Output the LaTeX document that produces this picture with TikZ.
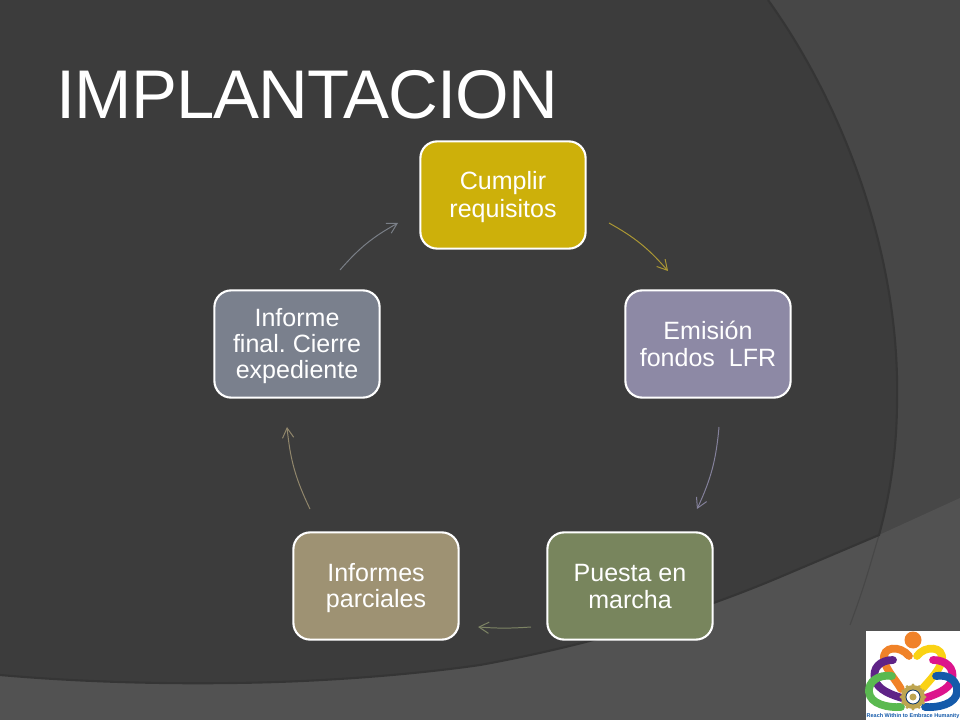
\documentclass[tikz,border=0pt]{standalone}
\usepackage{fontspec}
\setmainfont{Liberation Sans}
\newfontfamily\titlefont[LetterSpace=-1.3]{Liberation Sans}
\usetikzlibrary{arrows.meta}
\frenchspacing
\newcommand{\linestrut}{\rule[-2.9pt]{0pt}{18.6pt}}
\definecolor{slatebase}{RGB}{71,71,71}
\definecolor{slatedark}{RGB}{60,60,60}
\definecolor{slateedge}{RGB}{53,53,53}
\definecolor{slatefloor}{RGB}{82,82,82}
\definecolor{cumplirgold}{RGB}{205,176,10}
\definecolor{emisionlilac}{RGB}{141,137,165}
\definecolor{puestagreen}{RGB}{120,133,93}
\definecolor{parcialtan}{RGB}{158,146,115}
\definecolor{finalgrey}{RGB}{122,128,141}
\definecolor{logoblue}{RGB}{20,90,170}
\definecolor{logoorange}{RGB}{240,130,40}
\definecolor{logoyellow}{RGB}{250,210,20}
\definecolor{logopurple}{RGB}{95,35,135}
\definecolor{logomagenta}{RGB}{220,20,140}
\definecolor{logogreen}{RGB}{90,185,80}
\definecolor{logogold}{RGB}{190,165,80}
\tikzset{
    >={Straight Barb[length=7pt,width=8pt]},
    stepbox/.style={draw=white, line width=1.5pt, rounded corners=0.42cm, minimum width=4.13cm, minimum height=2.68cm, text=white, align=center, inner sep=0pt, font=\fontsize{17.8}{18.8}\selectfont},
    cycle arrow/.style={->, line width=0.7pt, bend left=#1},
    logo band/.style={line width=5.5pt, line cap=round}
}

\begin{document}
\begin{tikzpicture}[x=0.025cm, y=-0.025cm]
    \useasboundingbox (0,0) rectangle (960,720);
    % background
    \fill[slatebase] (0,0) rectangle (960,720);
    \fill[slatefloor] (0,675) .. controls (80,682) and (160,684) .. (233,683) .. controls (320,682) and (410,675) .. (480,665) .. controls (590,645) and (690,615) .. (780,577) -- (879,535) -- (960,498) -- (960,720) -- (0,720) -- cycle;
    \draw[slatebase, line width=0.8pt] (879,535) .. controls (870,565) and (865,585) .. (850,625);
    \fill[slatedark] (0,0) -- (768,0) .. controls (840,100) and (900,250) .. (897,400) .. controls (897,450) and (890,495) .. (879,535) -- (780,577) .. controls (690,615) and (590,645) .. (480,665) .. controls (410,675) and (320,682) .. (233,683) .. controls (160,684) and (80,682) .. (0,675) -- cycle;
    \draw[slateedge, line width=1.5pt] (768,0) .. controls (840,100) and (900,250) .. (897,400) .. controls (897,450) and (890,495) .. (879,535) -- (780,577) .. controls (690,615) and (590,645) .. (480,665) .. controls (410,675) and (320,682) .. (233,683) .. controls (160,684) and (80,682) .. (0,675);

    % title
    \node[anchor=base west, inner sep=0pt, text=white, font=\titlefont\fontsize{49}{51}\selectfont] (title) at (56,119) {IMPLANTACION};

    % the five steps
    \node[stepbox, fill=cumplirgold] (cumplir) at (503,195) {\linestrut Cumplir\\\linestrut requisitos};
    \node[stepbox, fill=emisionlilac] (emision) at (708,344) {\linestrut Emisi\'on\\\linestrut fondos\ \ LFR};
    \node[stepbox, fill=puestagreen] (puesta) at (630,586) {\linestrut Puesta en\\\linestrut marcha};
    \node[stepbox, fill=parcialtan] (parciales) at (376,586) {\linestrut Informes\\\linestrut parciales};
    \node[stepbox, fill=finalgrey] (final) at (297,344) {\linestrut Informe\\\linestrut final. Cierre\\\linestrut expediente};

    % free ends of the arrows
    \coordinate (cumplirout) at (609,223);
    \coordinate (emisionin) at (668,271);
    \coordinate (emisionout) at (719,427);
    \coordinate (puestain) at (697,509);
    \coordinate (puestaout) at (531,627);
    \coordinate (parcialesin) at (478,627);
    \coordinate (parcialesout) at (310,509);
    \coordinate (finalin) at (287,427);
    \coordinate (finalout) at (340,270);
    \coordinate (cumplirin) at (398,223);

    \draw[cycle arrow=10, color={rgb,255:red,172;green,152;blue,52}] (cumplirout) to (emisionin);
    \draw[cycle arrow=10, color={rgb,255:red,132;green,129;blue,155}] (emisionout) to (puestain);
    \draw[cycle arrow=4, color={rgb,255:red,125;green,132;blue,100}] (puestaout) to (parcialesin);
    \draw[cycle arrow=10, color={rgb,255:red,145;green,135;blue,108}] (parcialesout) to (finalin);
    \draw[cycle arrow=10, color={rgb,255:red,122;green,127;blue,135}] (finalout) to (cumplirin);

    % logo
    \fill[white] (866,631) rectangle (960,720);
    \fill[logoorange] (913,640) circle (8.5);
    \draw[logo band, logoorange] (909,656) .. controls (900,645) and (882,646) .. (884,660) .. controls (886,670) and (896,680) .. (901,689);
    \draw[logo band, logoyellow] (917,656) .. controls (925,645) and (944,646) .. (942,660) .. controls (940,670) and (930,680) .. (923,688);
    \draw[logo band, logopurple] (893,660) .. controls (880,660) and (872,668) .. (875,680) .. controls (878,690) and (892,695) .. (902,698);
    \draw[logo band, logomagenta] (933,660) .. controls (946,660) and (955,668) .. (952,680) .. controls (949,690) and (934,695) .. (925,698);
    \draw[logo band, logogreen] (892,676) .. controls (878,674) and (868,682) .. (869,692) .. controls (870,704) and (888,708) .. (901,707);
    \draw[logo band, logoblue] (936,676) .. controls (950,674) and (958,682) .. (957,692) .. controls (956,704) and (938,708) .. (925,707);
    \foreach \a in {0,30,...,330}
        \fill[logogold] (913,697) ++ (\a:12) circle (1.6);
    \fill[logogold] (913,697) circle (12);
    \draw[logoblue!60!black, line width=0.6pt, fill=white] (913,697) circle (7);
    \fill[logogold] (913,697) circle (3.5);
    \node[inner sep=0pt, text=logoblue, font=\bfseries\fontsize{3.9}{4}\selectfont] (logotext) at (913,716) {Reach Within to Embrace Humanity};
\end{tikzpicture}
\end{document}
